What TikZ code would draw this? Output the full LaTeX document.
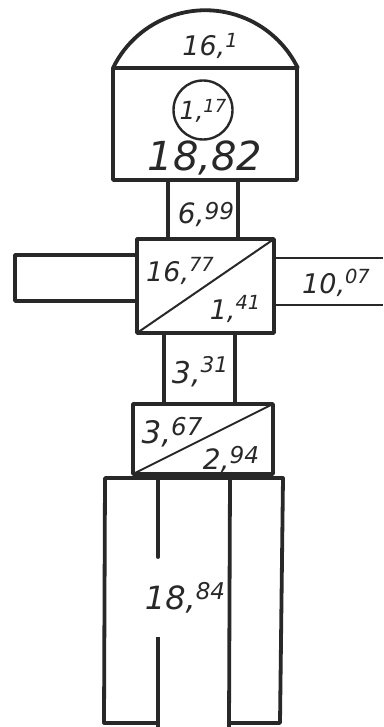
\documentclass[tikz,border=0pt]{standalone}
\usepackage{fontspec}
\setmainfont{DejaVu Sans}
\usepackage{graphicx}
\newcommand\hs[2]{\raisebox{#1}{\scalebox{0.72}{#2}}}
\definecolor{ink}{RGB}{40,40,40}
\begin{document}
\begin{tikzpicture}[x=1pt,y=-1pt,
  outline/.style={draw=ink,line width=3.8pt,line join=round,line cap=round},
  thinline/.style={draw=ink,line width=2pt,line cap=round},
  armline/.style={draw=ink,line width=2.8pt},
  lbl/.style={anchor=base,inner sep=0pt,text=ink,font=\itshape}]
\useasboundingbox (0,0) rectangle (383,727);
% dome and head
\draw[outline] (113,68) arc[start angle=-154,end angle=-26,radius=102.8];
\draw[outline] (113,68) rectangle (297,180);
\draw[ink,line width=2.4pt] (203,110) circle[radius=29.5];
% neck 1
\draw[outline] (168,180) rectangle (238,239);
% middle square
\draw[outline] (137,239) rectangle (274,333);
\draw[thinline] (137,333) -- (274,239);
% arms
\draw[outline] (137,255) -- (15,255) -- (15,301) -- (137,301);
\draw[armline] (274,258) -- (383,258);
\draw[armline] (274,305) -- (383,305);
% neck 2
\draw[outline] (164,333) rectangle (235,404);
% lower rect
\draw[outline] (133,404) rectangle (273,474);
\draw[thinline] (133,474) -- (273,404);
% legs
\draw[outline] (157,723) -- (104,723) -- (105,478) -- (283,478) -- (280,723) -- (229,723);
\draw[outline] (158,478) -- (158,557);
\draw[outline,line cap=butt] (158,637) -- (158,727);
\draw[outline,line cap=butt] (230,478) -- (229,727);
% labels
\node[lbl,font=\itshape\fontsize{27}{32}\selectfont] (t161) at (210,56) {16,\hs{0.3em}{1}};
\node[lbl,font=\itshape\fontsize{25}{30}\selectfont] (t117) at (203,120) {1,\hs{0.3em}{17}};
\node[lbl,font=\itshape\fontsize{40}{48}\selectfont] (t1882) at (205,171) {18,82};
\node[lbl,font=\itshape\fontsize{28}{33}\selectfont] (t699) at (206,223) {6,\hs{0.12em}{\scalebox{1.15}{99}}};
\node[lbl,font=\itshape\fontsize{27}{32}\selectfont] (t1677) at (180,281) {16,\hs{0.35em}{77}};
\node[lbl,font=\itshape\fontsize{27}{32}\selectfont] (t141) at (235,319) {1,\hs{0.35em}{41}};
\node[lbl,font=\itshape\fontsize{27}{32}\selectfont] (t1007) at (336,293) {10,\hs{0.35em}{07}};
\node[lbl,font=\itshape\fontsize{30}{36}\selectfont] (t331) at (200,383) {3,\hs{0.35em}{31}};
\node[lbl,font=\itshape\fontsize{31}{37}\selectfont] (t367) at (172,443) {3,\hs{0.25em}{\scalebox{1.1}{67}}};
\node[lbl,font=\itshape\fontsize{28}{33}\selectfont] (t294) at (231,469) {2,\hs{0.18em}{\scalebox{1.15}{94}}};
\node[lbl,font=\itshape\fontsize{32}{38}\selectfont] (t1884) at (185,609) {18,\hs{0.3em}{84}};
\end{tikzpicture}
\end{document}
